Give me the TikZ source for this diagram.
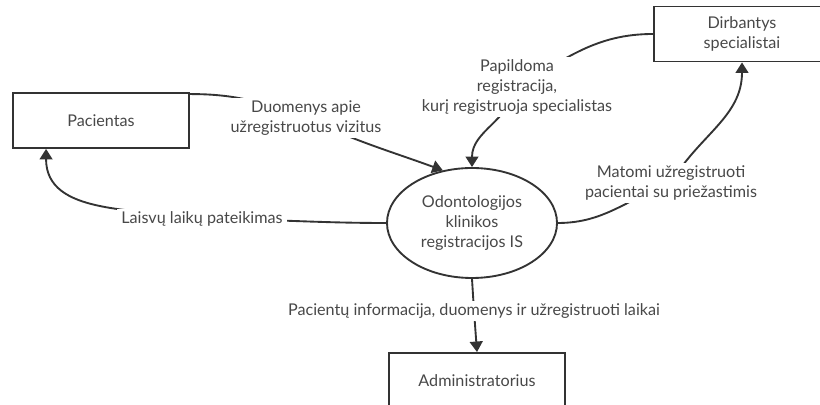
\documentclass[tikz,border=0pt]{standalone}
\usepackage{fontspec}
\setmainfont{Lato}
\usetikzlibrary{arrows.meta,shapes.geometric,calc}
\definecolor{ink}{HTML}{333333}
\definecolor{txt}{HTML}{484848}
\tikzset{
    %Define standard arrow tip
    >={Triangle[length=9pt,width=11pt]},
    %Define style for boxes
    entity/.style={
    rectangle,
    draw=ink, line width=1.6pt,
    minimum width=5.28cm,
    minimum height=1.65cm,
    font=\fontsize{13.8}{17}\selectfont,
    text=txt,
    align=center
    },
    process/.style={
    ellipse,
    draw=ink, line width=1.6pt,
    minimum width=5.1cm,
    minimum height=3.3cm,
    inner sep=0pt,
    font=\fontsize{13.8}{17}\selectfont,
    text=txt,
    align=center
    },
    % Define label and arrow style
    flowlabel/.style={
    fill=white,
    inner xsep=4pt, inner ysep=2pt,
    font=\fontsize{13.8}{17}\selectfont,
    text=txt,
    align=center
    },
    flow/.style={
    ->,
    draw=ink,
    line width=1.6pt}
}
\begin{document}
\begin{tikzpicture}[x=0.03cm,y=0.03cm]
\clip (0,0) rectangle (820,405);
\node[entity] (pac) at (101,284.5) {Pacientas};
\node[entity] (dir) at (742,371) {Dirbantys\\specialistai};
\node[entity] (adm) at (477,24.5) {Administratorius};
\node[process] (ell) at (472,182) {Odontologijos\\klinikos\\registracijos IS};
% points where the flow labels sit
\coordinate (m1) at (306,287);
\coordinate (m2) at (202,186);
\coordinate (m3) at (517,318);
\coordinate (m4) at (671,222);
\coordinate (m5) at (474,94);
\draw[flow] ($(pac.north east)+(0,-2)$) to[out=0,in=160] (m1)
    node[flowlabel] (duom) {Duomenys apie\\užregistruotus vizitus}
    to[out=-25,in=160] (ell.119);
\draw[flow] (ell.west) to[out=180,in=0] (m2)
    node[flowlabel] (laisv) {Laisvų laikų pateikimas}
    to[out=170,in=-90] ($(pac.south west)+(34,0)$);
\draw[flow] (dir.west) to[out=180,in=30] (m3)
    node[flowlabel] (papild) {Papildoma\\registracija,\\kurį registruoja specialistas}
    to[out=-105,in=90] (ell.north);
\draw[flow] (ell.east) to[out=0,in=200] (m4)
    node[flowlabel] (matom) {Matomi užregistruoti\\pacientai su priežastimis}
    to[out=60,in=-90] (dir.south);
\draw[flow] (ell.south) -- (m5)
    node[flowlabel] (pacinf) {Pacientų informacija, duomenys ir užregistruoti laikai}
    -- (adm.north);
\end{tikzpicture}
\end{document}
